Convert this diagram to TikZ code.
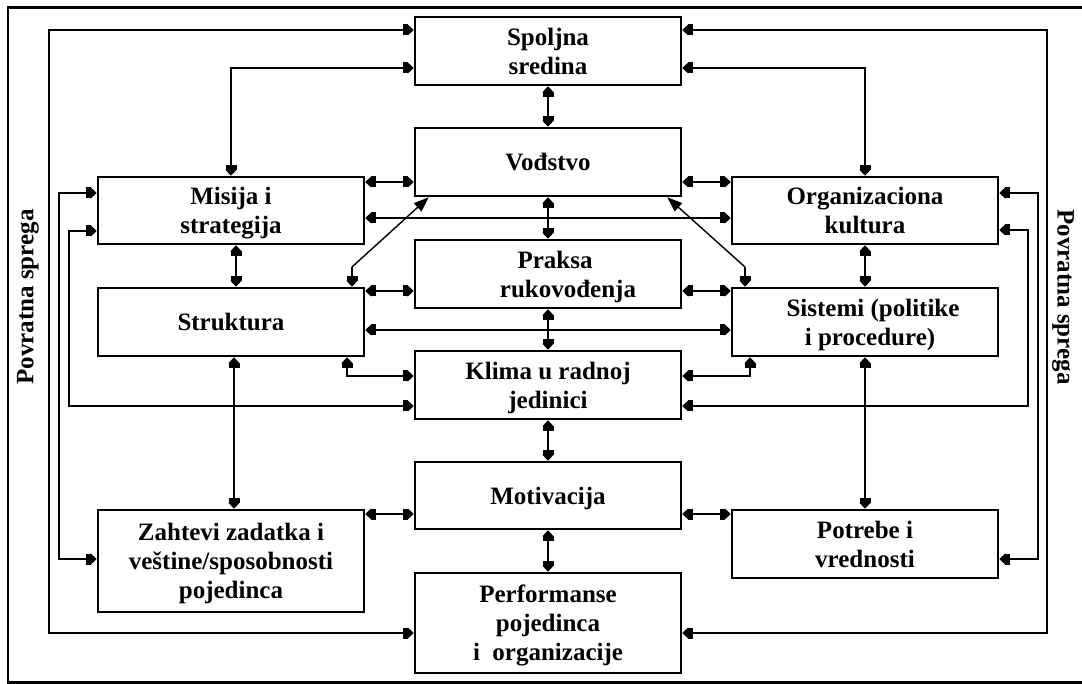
\documentclass[tikz,border=0pt]{standalone}
\usepackage{fontspec}
\setmainfont{Liberation Serif}
\usetikzlibrary{arrows.meta}
\tikzset{
  bk/.tip={Square[length=5pt,width=11pt,sep=0pt]Triangle[length=6pt,width=11pt,sep=0pt]},
  box/.style={draw, line width=2.6pt, minimum width=266pt, inner sep=0pt,
    align=center, text depth=0pt, font=\bfseries\fontsize{25}{29}\selectfont},
  con/.style={line width=2.5pt, {bk}-{bk}},
  onecon/.style={line width=2.5pt, -{bk}},
  diag/.style={line width=1.4pt, -{Triangle[length=15pt,width=11pt]}},
  side/.style={font=\bfseries\fontsize{25}{29}\selectfont},
}
\begin{document}
\begin{tikzpicture}[x=1pt,y=-1pt]
\useasboundingbox (0,0) rectangle (1082,684);
% outer frame (open on the right)
\draw[line width=2.2pt] (1082,7.5) -- (8,7.5) -- (8,682.5) -- (1082,682.5);

% centre column
\node[box, minimum height=68pt] (sp) at (548,51) {Spoljna\\sredina};
\node[box, minimum height=68pt] (vo) at (548,162) {Vođstvo};
\node[box, minimum height=68pt] (pr) at (548,274) {\hspace*{14pt}Praksa\\\hspace*{40pt}rukovođenja};
\node[box, minimum height=68pt] (kl) at (548,385) {Klima u radnoj\\jedinici};
\node[box, minimum height=67pt] (mo) at (548,495.5) {Motivacija};
\node[box, minimum height=100pt] (pe) at (548,623) {Performanse\\pojedinca\\i~~organizacije};

% left column
\node[box, minimum height=67pt] (mi) at (231,210.5) {Misija i\\strategija};
\node[box, minimum height=68pt] (st) at (231,322) {Struktura};
\node[box, minimum height=102pt] (za) at (231,561) {Zahtevi zadatka i\\veštine/sposobnosti\\pojedinca};

% right column
\node[box, minimum height=67pt] (ok) at (865,210.5) {Organizaciona\\kultura};
\node[box, minimum height=68pt] (si) at (865,322) {\hspace*{16pt}Sistemi (politike\\\hspace*{10pt}i procedure)};
\node[box, minimum height=68pt] (po) at (865,544) {Potrebe i\\vrednosti};

% feedback labels
\node[side, rotate=90] (fbl) at (28,297) {Povratna sprega};
\node[side, rotate=-90] (fbr) at (1063,297) {Povratna sprega};

% outer feedback loops
\draw[con] (sp.west |- 0,30) -| (49,633) -- (pe.west |- 0,633);
\draw[con] (sp.east |- 0,30) -| (1047,633) -- (pe.east |- 0,633);
\draw[con] (mi.west |- 0,193) -| (59,559) -- (za.west |- 0,559);
\draw[con] (ok.east |- 0,193) -| (1038,559) -- (po.east |- 0,559);
\draw[con] (mi.west |- 0,231) -| (69,406) -- (kl.west |- 0,406);
\draw[con] (ok.east |- 0,230) -| (1028,406) -- (kl.east |- 0,406);

% environment links
\draw[con] (sp.west |- 0,68) -| (mi.north);
\draw[con] (sp.east |- 0,68) -| (ok.north);
\draw[con] (sp.south) -- (vo.north);

% leadership level
\draw[con] (vo.west |- 0,182) -- (mi.east |- 0,182);
\draw[con] (vo.east |- 0,182) -- (ok.west |- 0,182);
\draw[con] (mi.east |- 0,218) -- (ok.west |- 0,218);
\draw[con] (vo.south) -- (pr.north);

% diagonal links to leadership
\coordinate (dl) at (352,267);
\coordinate (dr) at (745,267);
\draw[diag] (dl) -- ([xshift=15pt]vo.south west);
\draw[diag] (dr) -- ([xshift=-15pt]vo.south east);
\draw[onecon] (dl) -- (st.north -| dl);
\draw[onecon] (dr) -- (si.north -| dr);

% management practice level
\draw[con] (st.east |- 0,291) -- (pr.west |- 0,291);
\draw[con] (pr.east |- 0,291) -- (si.west |- 0,291);
\draw[con] (st.east |- 0,330) -- (si.west |- 0,330);
\draw[con] (mi.south -| 236,0) -- (st.north -| 236,0);
\draw[con] (ok.south) -- (si.north);
\draw[con] (pr.south) -- (kl.north);

% work unit climate
\draw[con] (st.south -| 347,0) |- (kl.west |- 0,376);
\draw[con] (si.south -| 750,0) |- (kl.east |- 0,376);

% individual level
\draw[con] (st.south -| 234,0) -- (za.north -| 234,0);
\draw[con] (si.south) -- (po.north);
\draw[con] (kl.south) -- (mo.north);
\draw[con] (za.east |- 0,514) -- (mo.west |- 0,514);
\draw[con] (mo.east |- 0,514) -- (po.west |- 0,514);
\draw[con] (mo.south) -- (pe.north);
\end{tikzpicture}
\end{document}
